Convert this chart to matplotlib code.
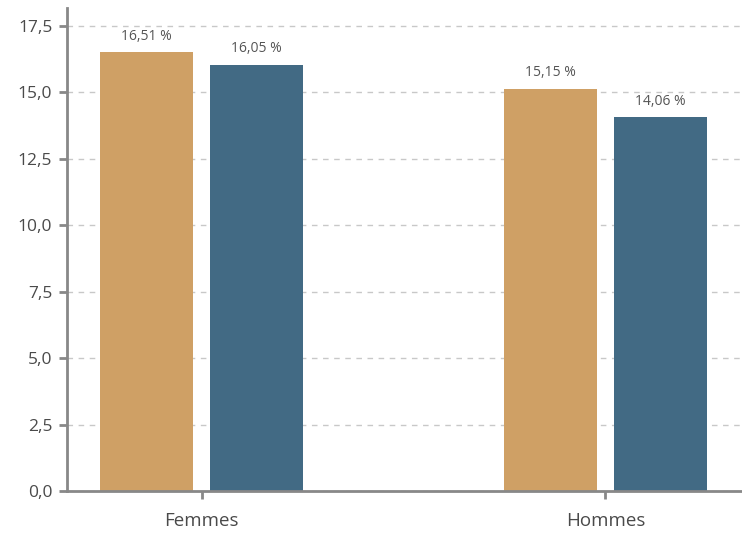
import matplotlib
matplotlib.use("Agg")
import matplotlib.pyplot as plt
import numpy as np

categories = ["Femmes", "Hommes"]
series_a = [16.51, 15.15]
series_b = [16.05, 14.06]
yticks = [0, 2.5, 5, 7.5, 10, 12.5, 15, 17.5]

plt.rcParams['font.family'] = ['Open Sans', 'DejaVu Sans']

fig = plt.figure(figsize=(7.42, 5.33), dpi=100)
ax = fig.add_axes([67/742, 42/533, 1 - 67/742, (491-8)/533])

x = np.arange(len(categories))
w = 0.23
off = 0.136
ba = ax.bar(x - off, series_a, w, color="#CFA065", zorder=3)
bb = ax.bar(x + off, series_b, w, color="#426A84", zorder=3)

for bars, vals in ((ba, series_a), (bb, series_b)):
    for r, v in zip(bars, vals):
        ax.annotate(f"{v:.2f}".replace(".", ",") + " %",
                    (r.get_x() + r.get_width()/2, v), xytext=(0, 6),
                    textcoords="offset points", ha="center", va="bottom",
                    fontsize=10, color="#555555")

ax.set_xlim(-0.333, 1.338)
ax.set_ylim(0, 18.18)
ax.set_yticks(yticks)
ax.set_yticklabels([f"{t:.1f}".replace(".", ",") for t in yticks])
ax.set_xticks(x)
ax.set_xticklabels(categories)
ax.yaxis.grid(True, linestyle=(0, (4, 4)), color="#c8c8c8", linewidth=1, zorder=0)
ax.set_axisbelow(True)
for s in ["top", "right"]:
    ax.spines[s].set_visible(False)
for s in ["left", "bottom"]:
    ax.spines[s].set_color("#888888")
    ax.spines[s].set_linewidth(2)
ax.spines["bottom"].set_zorder(4)
ax.tick_params(axis="y", length=6, width=2, color="#888888", labelsize=12.5, labelcolor="#4a4a4a", pad=4.5)
ax.tick_params(axis="x", length=6, width=2, color="#888888", labelsize=13.5, labelcolor="#4a4a4a", pad=9)

fig.savefig("out.png", dpi=100)
